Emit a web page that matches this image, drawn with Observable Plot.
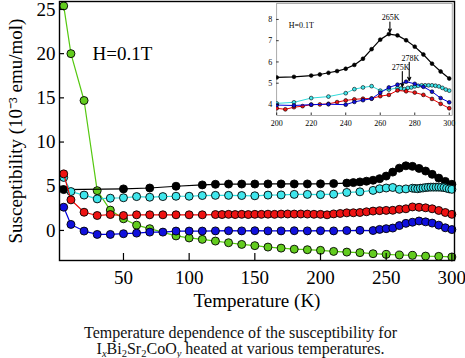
<!DOCTYPE html>
<html>
<head>
<meta charset="utf-8">
<script src="https://cdn.jsdelivr.net/npm/d3@7"></script>
<script src="https://cdn.jsdelivr.net/npm/@observablehq/plot@0.6"></script>
<style>
  body { margin: 0; background: white; }
  #wrap { position: relative; width: 465px; height: 358px; overflow: hidden; }
  #main { position: absolute; left: 0; top: 0; }
  #inset { position: absolute; left: 250px; top: 0; }
  #cap { position: absolute; left: 8px; top: 325px; width: 465px; text-align: center; font-size: 16px; line-height: 15.5px; color: #111; }
  #cap sub { font-size: 10.5px; vertical-align: -3px; line-height: 0; }
</style>
</head>
<body>
<div id="wrap">
  <div id="main"></div>
  <div id="inset"></div>
  <div id="cap" style="font-family:'Liberation Serif'">Temperature dependence of the susceptibility for<br>I<sub><i>x</i></sub>Bi<sub>2</sub>Sr<sub>2</sub>CoO<sub><i>y</i></sub> heated at various temperatures.</div>
</div>
<script>
// ---- data (temperature in K, susceptibility in 10^-3 emu/mol) ----
const blackT = [4.5, 50, 70, 90, 110, 120, 130, 140, 150, 160, 170, 180, 190, 200, 210, 220, 225, 230, 235, 240, 245, 250, 255, 260, 265, 270, 275, 280, 285, 290, 295, 300];
const blackV = [4.62, 4.7, 4.8, 5.0, 5.15, 5.22, 5.25, 5.25, 5.25, 5.26, 5.26, 5.26, 5.26, 5.27, 5.3, 5.36, 5.41, 5.49, 5.57, 5.68, 5.86, 6.15, 6.6, 7.05, 7.31, 7.25, 7.02, 6.72, 6.35, 5.92, 5.55, 5.22];

const cyanT = [4.5, 10, 20, 30, 40, 50, 60, 70, 80, 90, 100, 110, 120, 130, 140, 150, 160, 170, 180, 190, 200, 210, 220, 230, 240, 245, 250, 255, 260, 265, 270, 272, 274, 276, 278, 280, 282, 284, 286, 288, 290, 292, 294, 296, 298, 300];
const cyanV = [6.0, 4.4, 4.0, 3.57, 3.65, 3.7, 3.83, 3.76, 3.83, 3.87, 3.87, 3.95, 3.97, 3.97, 3.95, 3.92, 4.0, 4.02, 4.08, 4.08, 4.05, 4.1, 4.3, 4.37, 4.53, 4.72, 4.8, 4.86, 4.65, 4.7, 4.78, 4.75, 4.72, 4.78, 4.8, 4.85, 4.88, 4.9, 4.9, 4.9, 4.9, 4.88, 4.85, 4.78, 4.7, 4.65];

const redT = [4.5, 10, 20, 30, 40, 50, 60, 70, 80, 90, 100, 110, 120, 125, 130, 135, 140, 145, 150, 155, 160, 165, 170, 175, 180, 185, 190, 195, 200, 205, 210, 215, 220, 225, 230, 235, 240, 245, 250, 255, 260, 265, 270, 275, 280, 285, 290, 295, 300];
const redV = [6.4, 3.46, 2.06, 1.69, 1.8, 1.69, 1.77, 1.77, 1.77, 1.77, 1.77, 1.77, 1.8, 1.8, 1.82, 1.8, 1.82, 1.8, 1.82, 1.82, 1.84, 1.82, 1.85, 1.86, 1.85, 1.86, 1.85, 1.83, 1.82, 1.77, 1.87, 1.92, 1.99, 2.0, 2.03, 2.11, 2.19, 2.24, 2.27, 2.28, 2.39, 2.45, 2.66, 2.62, 2.56, 2.45, 2.26, 2.03, 1.82];

const blueT = [4.5, 10, 20, 30, 40, 50, 60, 70, 80, 90, 100, 110, 120, 130, 140, 150, 160, 170, 180, 190, 200, 210, 220, 230, 240, 245, 250, 255, 260, 265, 270, 275, 280, 285, 290, 295, 300];
const blueV = [2.63, 0.68, -0.07, -0.45, -0.45, -0.37, -0.3, -0.19, -0.19, -0.07, -0.07, -0.07, -0.05, -0.03, -0.05, -0.03, -0.05, -0.05, -0.03, -0.05, -0.03, -0.05, -0.01, 0.01, -0.01, 0.12, 0.2, 0.27, 0.55, 0.8, 0.93, 1.07, 0.97, 0.83, 0.6, 0.3, 0.1];

const greenT = [4.5, 10, 20, 30, 40, 50, 60, 70, 90, 100, 110, 120, 130, 140, 150, 160, 170, 180, 190, 200, 210, 220, 230, 240, 250, 260, 270, 280, 290, 300];
const greenV = [25.4, 20.0, 14.7, 4.5, 2.3, 1.32, 0.6, 0.2, -0.62, -0.85, -1.01, -1.2, -1.39, -1.58, -1.72, -1.88, -2.0, -2.12, -2.18, -2.25, -2.37, -2.45, -2.51, -2.63, -2.71, -2.78, -2.82, -2.9, -2.93, -3.0];

// inset: curves shifted vertically for clarity
const insetOffsets = {black: 0, cyan: 0, red: 2, blue: 4};

const xTicksMain = [50, 100, 150, 200, 250, 300];
const yTicksMain = [0, 5, 10, 15, 20, 25];
const xTicksInset = [200, 220, 240, 260, 280, 300];
const yTicksInset = [4, 5, 6, 7, 8];

const peakLabels = ["265K", "278K", "275K"];
const peakT = [265.6, 276.8, 272.8];
const peakLabelT = [266, 277.4, 271.8];
const peakLabelV = [8.1, 6.18, 5.76];
const peakFromV = [7.88, 5.98, 5.55];
const peakToV = [7.4, 5.12, 4.83];

const colors = {green: "#62cc1e", black: "#000000", cyan: "#3fe6ec", red: "#ee1212", blue: "#1010dd"};
const lineColors = {green: "#55c810", black: "#000000", cyan: "#30dada", red: "#ee0000", blue: "#0000dd"};

function series(name, T, V) { return T.map((t, i) => ({series: name, T: t, v: V[i]})); }
const all = {
  green: series("green", greenT, greenV),
  black: series("black", blackT, blackV),
  cyan: series("cyan", cyanT, cyanV),
  red: series("red", redT, redV),
  blue: series("blue", blueT, blueV)
};
const order = ["green", "black", "cyan", "red", "blue"];

const ff = "Liberation Serif";
const fmt = d => String(d);

// ---------- main chart ----------
const mainMarks = [];
for (const k of order) {
  mainMarks.push(Plot.line(all[k], {x: "T", y: "v", stroke: lineColors[k], strokeWidth: 1.2}));
  mainMarks.push(Plot.dot(all[k], {x: "T", y: "v", r: 4, fill: colors[k], stroke: "black", strokeWidth: 0.9}));
}
const main = Plot.plot({
  width: 465, height: 312,
  marginLeft: 59, marginRight: 11, marginTop: 1, marginBottom: 52,
  x: {domain: [1.3, 302]},
  y: {domain: [-3.4, 25.9]},
  style: "background: transparent; color: black; font-family: 'Liberation Serif';",
  marks: [
    ...mainMarks,
    Plot.frame({stroke: "black", strokeWidth: 1.4}),
    Plot.axisX({ticks: xTicksMain, tickFormat: fmt, tickSize: -7, tickPadding: 17, fontSize: 19, fontFamily: ff, label: null, strokeWidth: 1.2}),
    Plot.axisY({ticks: yTicksMain, tickFormat: fmt, tickSize: -5, tickPadding: 9, fontSize: 19, fontFamily: ff, label: null, strokeWidth: 1.2}),
    Plot.text(["Susceptibility (10\u207B\u00B3 emu/mol)"], {text: d => d, frameAnchor: "left", rotate: -90, dx: -44, fontSize: 19, fontFamily: ff, lineAnchor: "middle", textAnchor: "middle"}),
    Plot.text(["Temperature (K)"], {text: d => d, frameAnchor: "bottom", dy: 40, fontSize: 19, fontFamily: ff, lineAnchor: "middle"}),
    Plot.text(["H=0.1T"], {text: d => d, x: 26.4, y: 19.96, textAnchor: "start", fontSize: 19, fontFamily: ff, lineAnchor: "middle"})
  ]
});
document.getElementById("main").appendChild(main);

// ---------- inset ----------
const insetMarks = [];
for (const k of ["cyan", "red", "blue", "black"]) {
  const off = insetOffsets[k];
  const d = all[k].filter(p => p.T >= 199);
  insetMarks.push(Plot.line(d, {x: "T", y: p => p.v + off, stroke: lineColors[k], strokeWidth: k === "black" ? 1.2 : 1}));
  insetMarks.push(Plot.dot(d, {x: "T", y: p => p.v + off, r: 1.9, fill: colors[k], stroke: "black", strokeWidth: 0.6}));
}
const arrows = peakLabels.map((s, i) => ({s, T: peakT[i], lt: peakLabelT[i], lv: peakLabelV[i], v1: peakFromV[i], v2: peakToV[i]}));
const inset = Plot.plot({
  width: 212, height: 140,
  marginLeft: 26.2, marginRight: 10.3, marginTop: 3, marginBottom: 25,
  x: {domain: [200, 301.7]},
  y: {domain: [3.48, 8.75]},
  clip: true,
  style: "background: transparent; color: black; font-family: 'Liberation Serif';",
  marks: [
    Plot.frame({stroke: "#888", strokeWidth: 0.7}),
    ...insetMarks,
    Plot.arrow(arrows, {x1: "T", x2: "T", y1: "v1", y2: "v2", stroke: "black", strokeWidth: 1.1, headLength: 5, headAngle: 50}),
    Plot.text(arrows, {x: "lt", y: "lv", text: "s", fontSize: 8, fontFamily: ff, lineAnchor: "middle"}),
    Plot.text(["H=0.1T"], {text: d => d, x: 207, y: 7.72, textAnchor: "start", fontSize: 8, fontFamily: ff, lineAnchor: "middle"}),
    Plot.axisX({ticks: xTicksInset, tickFormat: fmt, tickSize: -2.5, tickPadding: 7, fontSize: 8, fontFamily: ff, label: null, strokeWidth: 0.8}),
    Plot.axisY({ticks: yTicksInset, tickFormat: fmt, tickSize: -2.5, tickPadding: 7, fontSize: 8, fontFamily: ff, label: null, strokeWidth: 0.8}),
    Plot.text(["Susceptibility (10\u207B\u00B3 emu/mol)"], {text: d => d, frameAnchor: "left", rotate: -90, dx: -14, fontSize: 6.6, fontFamily: ff, lineAnchor: "middle", textAnchor: "middle"}),
    Plot.text(["Temperature (K)"], {text: d => d, frameAnchor: "bottom", dy: 18, fontSize: 8, fontFamily: ff, lineAnchor: "middle"})
  ]
});
document.getElementById("inset").appendChild(inset);
</script>
</body>
</html>
